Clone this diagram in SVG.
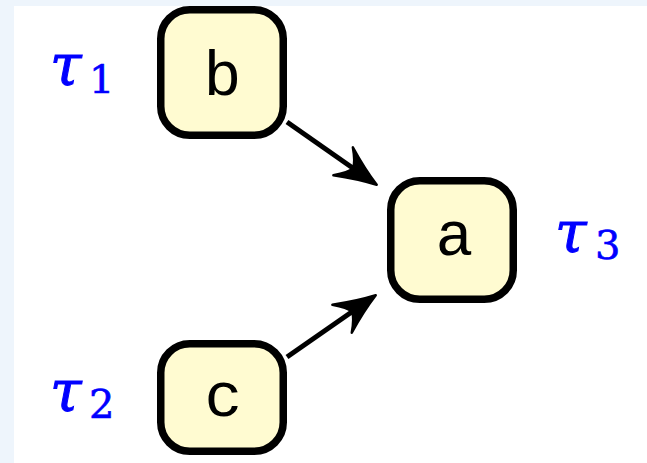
<svg xmlns="http://www.w3.org/2000/svg" width="647" height="463" viewBox="0 0 647 463">
<style>
.node rect{fill:#fffbd1;stroke:#000;stroke-width:7.5}
.node text{font-family:"Liberation Mono",monospace;font-size:63px;fill:#000;text-anchor:middle}
.lbl{font-family:"DejaVu Serif",serif;fill:#0000ff;stroke:#0000ff;stroke-width:1}
.lbl .t{font-style:italic;font-size:57px}
.lbl .d{font-size:40px;stroke-width:0.6}
.edge{stroke:#000;stroke-width:5;fill:none}
</style>
<defs>
<marker id="ah" markerUnits="userSpaceOnUse" markerWidth="60" markerHeight="50" refX="0" refY="0" viewBox="-30 -25 60 50" orient="auto" overflow="visible">
<path d="M21,0 Q2,-6 -20,-17 Q-9,-6 -8,0 Q-9,6 -20,17 Q2,6 21,0 Z" fill="#000" stroke="#000" stroke-width="2.5" stroke-linejoin="round"/>
</marker>
</defs>
<rect x="0" y="0" width="647" height="463" fill="#eef5fc"/>
<rect x="14" y="6" width="633" height="457" fill="#ffffff"/>
<g id="connectors">
<line class="edge" x1="287" y1="122" x2="359.5" y2="172.7" marker-end="url(#ah)"/>
<line class="edge" x1="287" y1="357" x2="358.5" y2="307.3" marker-end="url(#ah)"/>
</g>
<g id="node-b" class="node">
<rect x="160.75" y="9.75" width="122.5" height="125.5" rx="29"/>
<text x="222.5" y="95">b</text>
</g>
<g id="node-a" class="node">
<rect x="390.75" y="180.75" width="122.5" height="118.5" rx="29"/>
<text x="454.5" y="255">a</text>
</g>
<g id="node-c" class="node">
<rect x="160.75" y="343.75" width="122.5" height="107.5" rx="29"/>
<text x="223.5" y="416">c</text>
</g>
<g id="label-tau1" class="lbl">
<text x="50" y="85"><tspan class="t">τ</tspan><tspan class="d" x="89" y="93">1</tspan></text>
</g>
<g id="label-tau2" class="lbl">
<text x="50" y="411"><tspan class="t">τ</tspan><tspan class="d" x="89" y="418">2</tspan></text>
</g>
<g id="label-tau3" class="lbl">
<text x="555" y="252"><tspan class="t">τ</tspan><tspan class="d" x="595" y="259">3</tspan></text>
</g>
</svg>
